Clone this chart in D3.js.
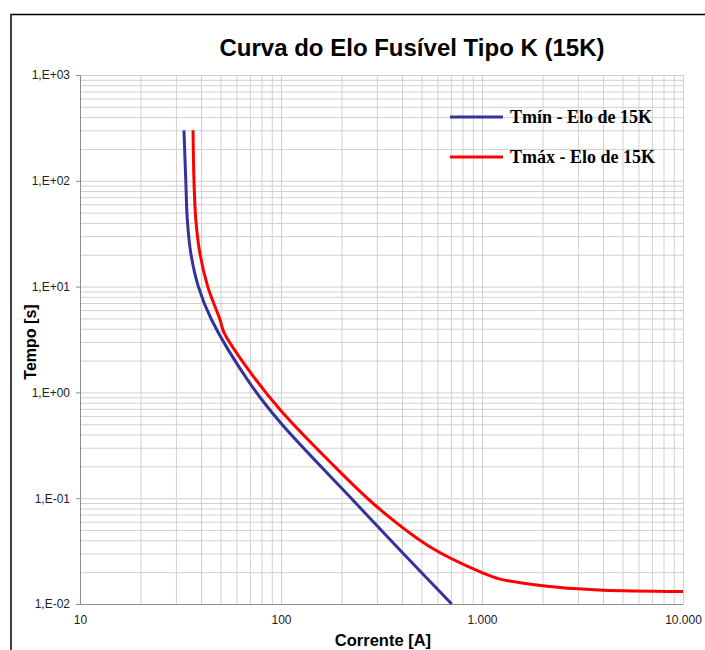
<!DOCTYPE html>
<html>
<head>
<meta charset="utf-8">
<script src="https://cdn.jsdelivr.net/npm/d3@7"></script>
<style>
  body { margin: 0; background: #fff; }
  svg { display: block; font-family: Arial, "Liberation Sans", sans-serif; }
  .grid line { stroke: #d0d0d0; stroke-width: 1; }
  .grid path { display: none; }
  .axis path, .axis line { stroke: #8c8c8c; }
  .axis text { font-size: 12px; fill: #222; }
  .line { fill: none; stroke-width: 3; }
</style>
</head>
<body>
<div id="chart"></div>
<script>
// valores (corrente em A, tempo em s)
var tminCurrent = [32.9, 33.6, 34.2, 35.6, 38.8, 45.2, 70, 100, 220, 377, 707];
var tminTime    = [300, 100, 42.6, 20.6, 10, 4.83, 1.22, 0.51, 0.103, 0.0348, 0.01];

var tmaxCurrent = [36.5, 36.9, 37.7, 39.5, 43.2, 49.8, 52, 70, 100, 175, 300, 550, 1000, 1230, 2000, 3000, 4000, 10000];
var tmaxTime    = [300, 100, 42.6, 20.6, 10, 4.83, 3.7, 1.57, 0.67, 0.221, 0.083, 0.0348, 0.0198, 0.0172, 0.0149, 0.0139, 0.0135, 0.0131];

var xTickValues = [10, 100, 1000, 10000];
var xTickLabels = ["10", "100", "1.000", "10.000"];
var yTickValues = [0.01, 0.1, 1, 10, 100, 1000];
var yTickLabels = ["1,E-02", "1,E-01", "1,E+00", "1,E+01", "1,E+02", "1,E+03"];

var seriesNames = ["Tmín - Elo de 15K", "Tmáx - Elo de 15K"];
var seriesColors = ["#333399", "#ff0000"];

var W = 705, H = 650;
var margin = {top: 75, right: 22, bottom: 46, left: 80};
var width = W - margin.left - margin.right;
var height = H - margin.top - margin.bottom;

var x = d3.scaleLog().domain([10, 10000]).range([0, width]);
var y = d3.scaleLog().domain([0.01, 1000]).range([height, 0]);

var root = d3.select("#chart").append("svg")
    .attr("width", W)
    .attr("height", H);

// moldura externa
root.append("rect")
    .attr("x", 11).attr("y", 14.5)
    .attr("width", 760).attr("height", 700)
    .attr("fill", "none").attr("stroke", "#000").attr("stroke-width", 1.5);

root.append("text")
    .attr("x", 412).attr("y", 56)
    .attr("text-anchor", "middle")
    .style("font-size", "24px").style("font-weight", "bold")
    .text("Curva do Elo Fusível Tipo K (15K)");

var svg = root.append("g")
    .attr("transform", "translate(" + margin.left + "," + margin.top + ")");

svg.append("g").attr("class", "grid")
    .attr("transform", "translate(0," + height + ")")
    .call(d3.axisBottom(x).tickValues(x.ticks()).tickSize(-height).tickFormat(""));

svg.append("g").attr("class", "grid")
    .call(d3.axisLeft(y).tickValues(y.ticks()).tickSize(-width).tickFormat(""));

svg.append("g").attr("class", "x axis")
    .attr("transform", "translate(0," + height + ")")
    .call(d3.axisBottom(x).tickValues(xTickValues).tickSize(0).tickPadding(11)
        .tickFormat((d, i) => xTickLabels[i]));

svg.append("g").attr("class", "y axis")
    .call(d3.axisLeft(y).tickValues(yTickValues).tickSize(4).tickPadding(6)
        .tickFormat((d, i) => yTickLabels[i]));

var valueline = d3.line()
    .x(d => x(d.x))
    .y(d => y(d.y))
    .curve(d3.curveCatmullRom.alpha(0.5));

var tminData = tminCurrent.map((c, i) => ({x: c, y: tminTime[i]}));
var tmaxData = tmaxCurrent.map((c, i) => ({x: c, y: tmaxTime[i]}));

svg.append("path").attr("class", "line").attr("id", "tmin-line")
    .attr("stroke", seriesColors[0]).attr("d", valueline(tminData));
svg.append("path").attr("class", "line").attr("id", "tmax-line")
    .attr("stroke", seriesColors[1]).attr("d", valueline(tmaxData));

// legenda
var legend = root.append("g");
seriesNames.forEach((name, i) => {
    var ly = 117 + i * 40;
    legend.append("line")
        .attr("x1", 450).attr("x2", 503)
        .attr("y1", ly).attr("y2", ly)
        .attr("stroke", seriesColors[i]).attr("stroke-width", 3);
    legend.append("text")
        .attr("x", 510).attr("y", ly + 6)
        .style("font-family", "'Liberation Serif', 'Times New Roman', serif")
        .style("font-size", "18px").style("font-weight", "bold")
        .text(name);
});

root.append("text")
    .attr("x", 383).attr("y", 646)
    .attr("text-anchor", "middle")
    .style("font-size", "16.5px").style("font-weight", "bold")
    .text("Corrente [A]");

root.append("text")
    .attr("transform", "translate(36,342) rotate(-90)")
    .attr("text-anchor", "middle")
    .style("font-size", "16px").style("font-weight", "bold")
    .text("Tempo [s]");
</script>
</body>
</html>
